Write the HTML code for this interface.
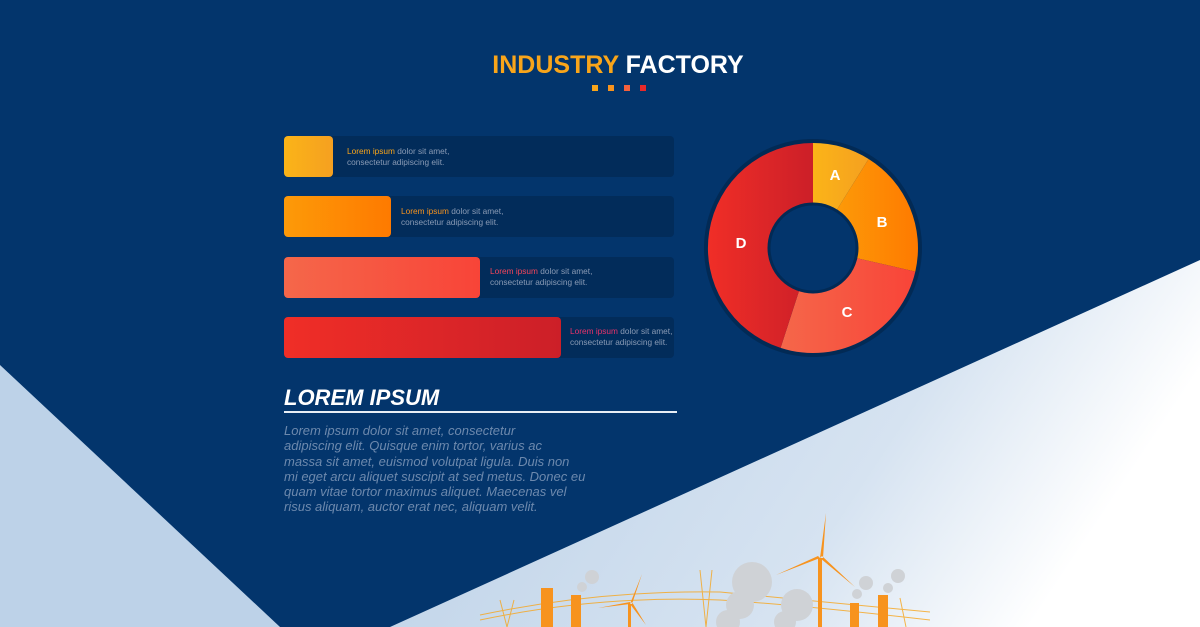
<!DOCTYPE html>
<html><head><meta charset="utf-8"><style>
body{margin:0;width:1200px;height:627px;overflow:hidden;background:#03356c;font-family:"Liberation Sans",sans-serif;position:relative}
.abs{position:absolute}
.panel{position:absolute;left:284px;width:390px;height:41px;background:#022c5a;border-radius:4px}
.bar{position:absolute;left:284px;height:41px;border-radius:4px}
.txt{position:absolute;font-size:8.3px;line-height:10.5px;color:#8a9bb5}
</style></head><body>
<svg class="abs" style="left:0;top:0" width="1200" height="627">
<defs>
<linearGradient id="lg" x1="0" y1="0" x2="1" y2="0.3"><stop offset="0" stop-color="#b9cfe6"/><stop offset="0.7" stop-color="#d6e3f1"/><stop offset="1" stop-color="#ffffff"/></linearGradient>
<linearGradient id="ga" x1="0" x2="1"><stop offset="0" stop-color="#fbb418"/><stop offset="1" stop-color="#f5a020"/></linearGradient>
<linearGradient id="gb" x1="0" x2="1"><stop offset="0" stop-color="#fd9a08"/><stop offset="1" stop-color="#fe7a00"/></linearGradient>
<linearGradient id="gc" x1="0" x2="1"><stop offset="0" stop-color="#f5674a"/><stop offset="1" stop-color="#f84438"/></linearGradient>
<linearGradient id="gd" x1="0" x2="1"><stop offset="0" stop-color="#f02e27"/><stop offset="1" stop-color="#cc1f28"/></linearGradient>
</defs>
<polygon points="0,365 280,627 0,627" fill="#bdd2e8"/>
<polygon points="1200,260 1200,627 390,627" fill="url(#lg)"/>
<circle cx="813" cy="248" r="109" fill="#022a55"/>
<path d="M813,143 A105,105 0 0 1 868.6,159 L835.8,211.5 A43,43 0 0 0 813,205Z" fill="url(#ga)"/>
<path d="M868.6,159 A105,105 0 0 1 915.3,271.6 L854.9,257.7 A43,43 0 0 0 835.8,211.5Z" fill="url(#gb)"/>
<path d="M915.3,271.6 A105,105 0 0 1 780.6,347.9 L799.7,288.9 A43,43 0 0 0 854.9,257.7Z" fill="url(#gc)"/>
<path d="M780.6,347.9 A105,105 0 0 1 813,143 L813,205 A43,43 0 0 0 799.7,288.9Z" fill="url(#gd)"/>
<circle cx="813" cy="248" r="44" fill="#03356c" stroke="#022a55" stroke-width="3"/>
<g fill="#fff" font-weight="bold" font-size="15" text-anchor="middle" font-family="Liberation Sans">
<text x="835" y="180">A</text><text x="882" y="227">B</text><text x="847" y="317">C</text><text x="741" y="248">D</text></g>
<g stroke="#f7a51c" stroke-width="1" fill="none" opacity="0.8">
<path d="M480,620 Q600,595 720,600 Q800,605 930,620"/><path d="M480,615 Q600,590 720,592 Q800,600 930,612"/>
<path d="M500,600 L507,627 M514,600 L507,627 M700,570 L706,627 M712,570 L706,627 M900,598 L906,627"/>
</g>
<g fill="#f7931e">
<rect x="541" y="588" width="12" height="39"/><rect x="571" y="595" width="10" height="32"/>
<rect x="850" y="603" width="9" height="24"/><rect x="878" y="595" width="10" height="32"/>
<rect x="628" y="604" width="3" height="23"/><rect x="818" y="558" width="4" height="69"/>
<path d="M820,558 L826,513 L823,558Z M820,558 L776,575 L818,556Z M820,558 L855,587 L822,556Z"/>
<path d="M630,604 L642,574 L632,604Z M630,604 L598,608 L630,602Z M630,604 L646,625 L632,602Z"/>
</g>
<g fill="#cfd2d6">
<circle cx="752" cy="582" r="20"/><circle cx="740" cy="605" r="14"/><circle cx="728" cy="622" r="12"/>
<circle cx="797" cy="605" r="16"/><circle cx="785" cy="622" r="11"/>
<circle cx="592" cy="577" r="7"/><circle cx="582" cy="587" r="5"/>
<circle cx="866" cy="583" r="7"/><circle cx="857" cy="594" r="5"/>
<circle cx="898" cy="576" r="7"/><circle cx="888" cy="588" r="5"/>
</g>
</svg>
<div class="abs" style="left:0;width:1236px;top:51px;text-align:center;font-size:25px;font-weight:bold;color:#fff"><span style="color:#f9a51a">INDUSTRY</span> FACTORY</div>
<div class="abs" style="left:592px;top:85px;width:6px;height:6px;background:#f9a51a"></div>
<div class="abs" style="left:608px;top:85px;width:6px;height:6px;background:#f7931e"></div>
<div class="abs" style="left:624px;top:85px;width:6px;height:6px;background:#f4613d"></div>
<div class="abs" style="left:640px;top:85px;width:6px;height:6px;background:#e8292a"></div>

<div class="panel" style="top:136px"></div><div class="bar" style="top:136px;width:49px;background:linear-gradient(90deg,#fbb418,#f5a020)"></div>
<div class="txt" style="left:347px;top:146px"><span style="color:#f9a51a">Lorem ipsum</span> dolor sit amet,<br>consectetur adipiscing elit.</div>
<div class="panel" style="top:196px"></div><div class="bar" style="top:196px;width:107px;background:linear-gradient(90deg,#fd9a08,#fe7a00)"></div>
<div class="txt" style="left:401px;top:206px"><span style="color:#f7931e">Lorem ipsum</span> dolor sit amet,<br>consectetur adipiscing elit.</div>
<div class="panel" style="top:257px"></div><div class="bar" style="top:257px;width:196px;background:linear-gradient(90deg,#f5674a,#f84438)"></div>
<div class="txt" style="left:490px;top:266px"><span style="color:#f5455a">Lorem ipsum</span> dolor sit amet,<br>consectetur adipiscing elit.</div>
<div class="panel" style="top:317px"></div><div class="bar" style="top:317px;width:277px;background:linear-gradient(90deg,#f02e27,#cc1f28)"></div>
<div class="txt" style="left:570px;top:326px"><span style="color:#e8336a">Lorem ipsum</span> dolor sit amet,<br>consectetur adipiscing elit.</div>

<div class="abs" style="left:284px;top:385px;font-size:22px;font-weight:bold;font-style:italic;color:#fff">LOREM IPSUM</div>
<div class="abs" style="left:284px;top:411px;width:393px;height:2px;background:#e8eef5"></div>
<div class="abs" style="left:284px;top:423px;white-space:nowrap;font-size:13px;line-height:15.3px;font-style:italic;color:#6d89ad">Lorem ipsum dolor sit amet, consectetur<br>adipiscing elit. Quisque enim tortor, varius ac<br>massa sit amet, euismod volutpat ligula. Duis non<br>mi eget arcu aliquet suscipit at sed metus. Donec eu<br>quam vitae tortor maximus aliquet. Maecenas vel<br>risus aliquam, auctor erat nec, aliquam velit.</div>
</body></html>
